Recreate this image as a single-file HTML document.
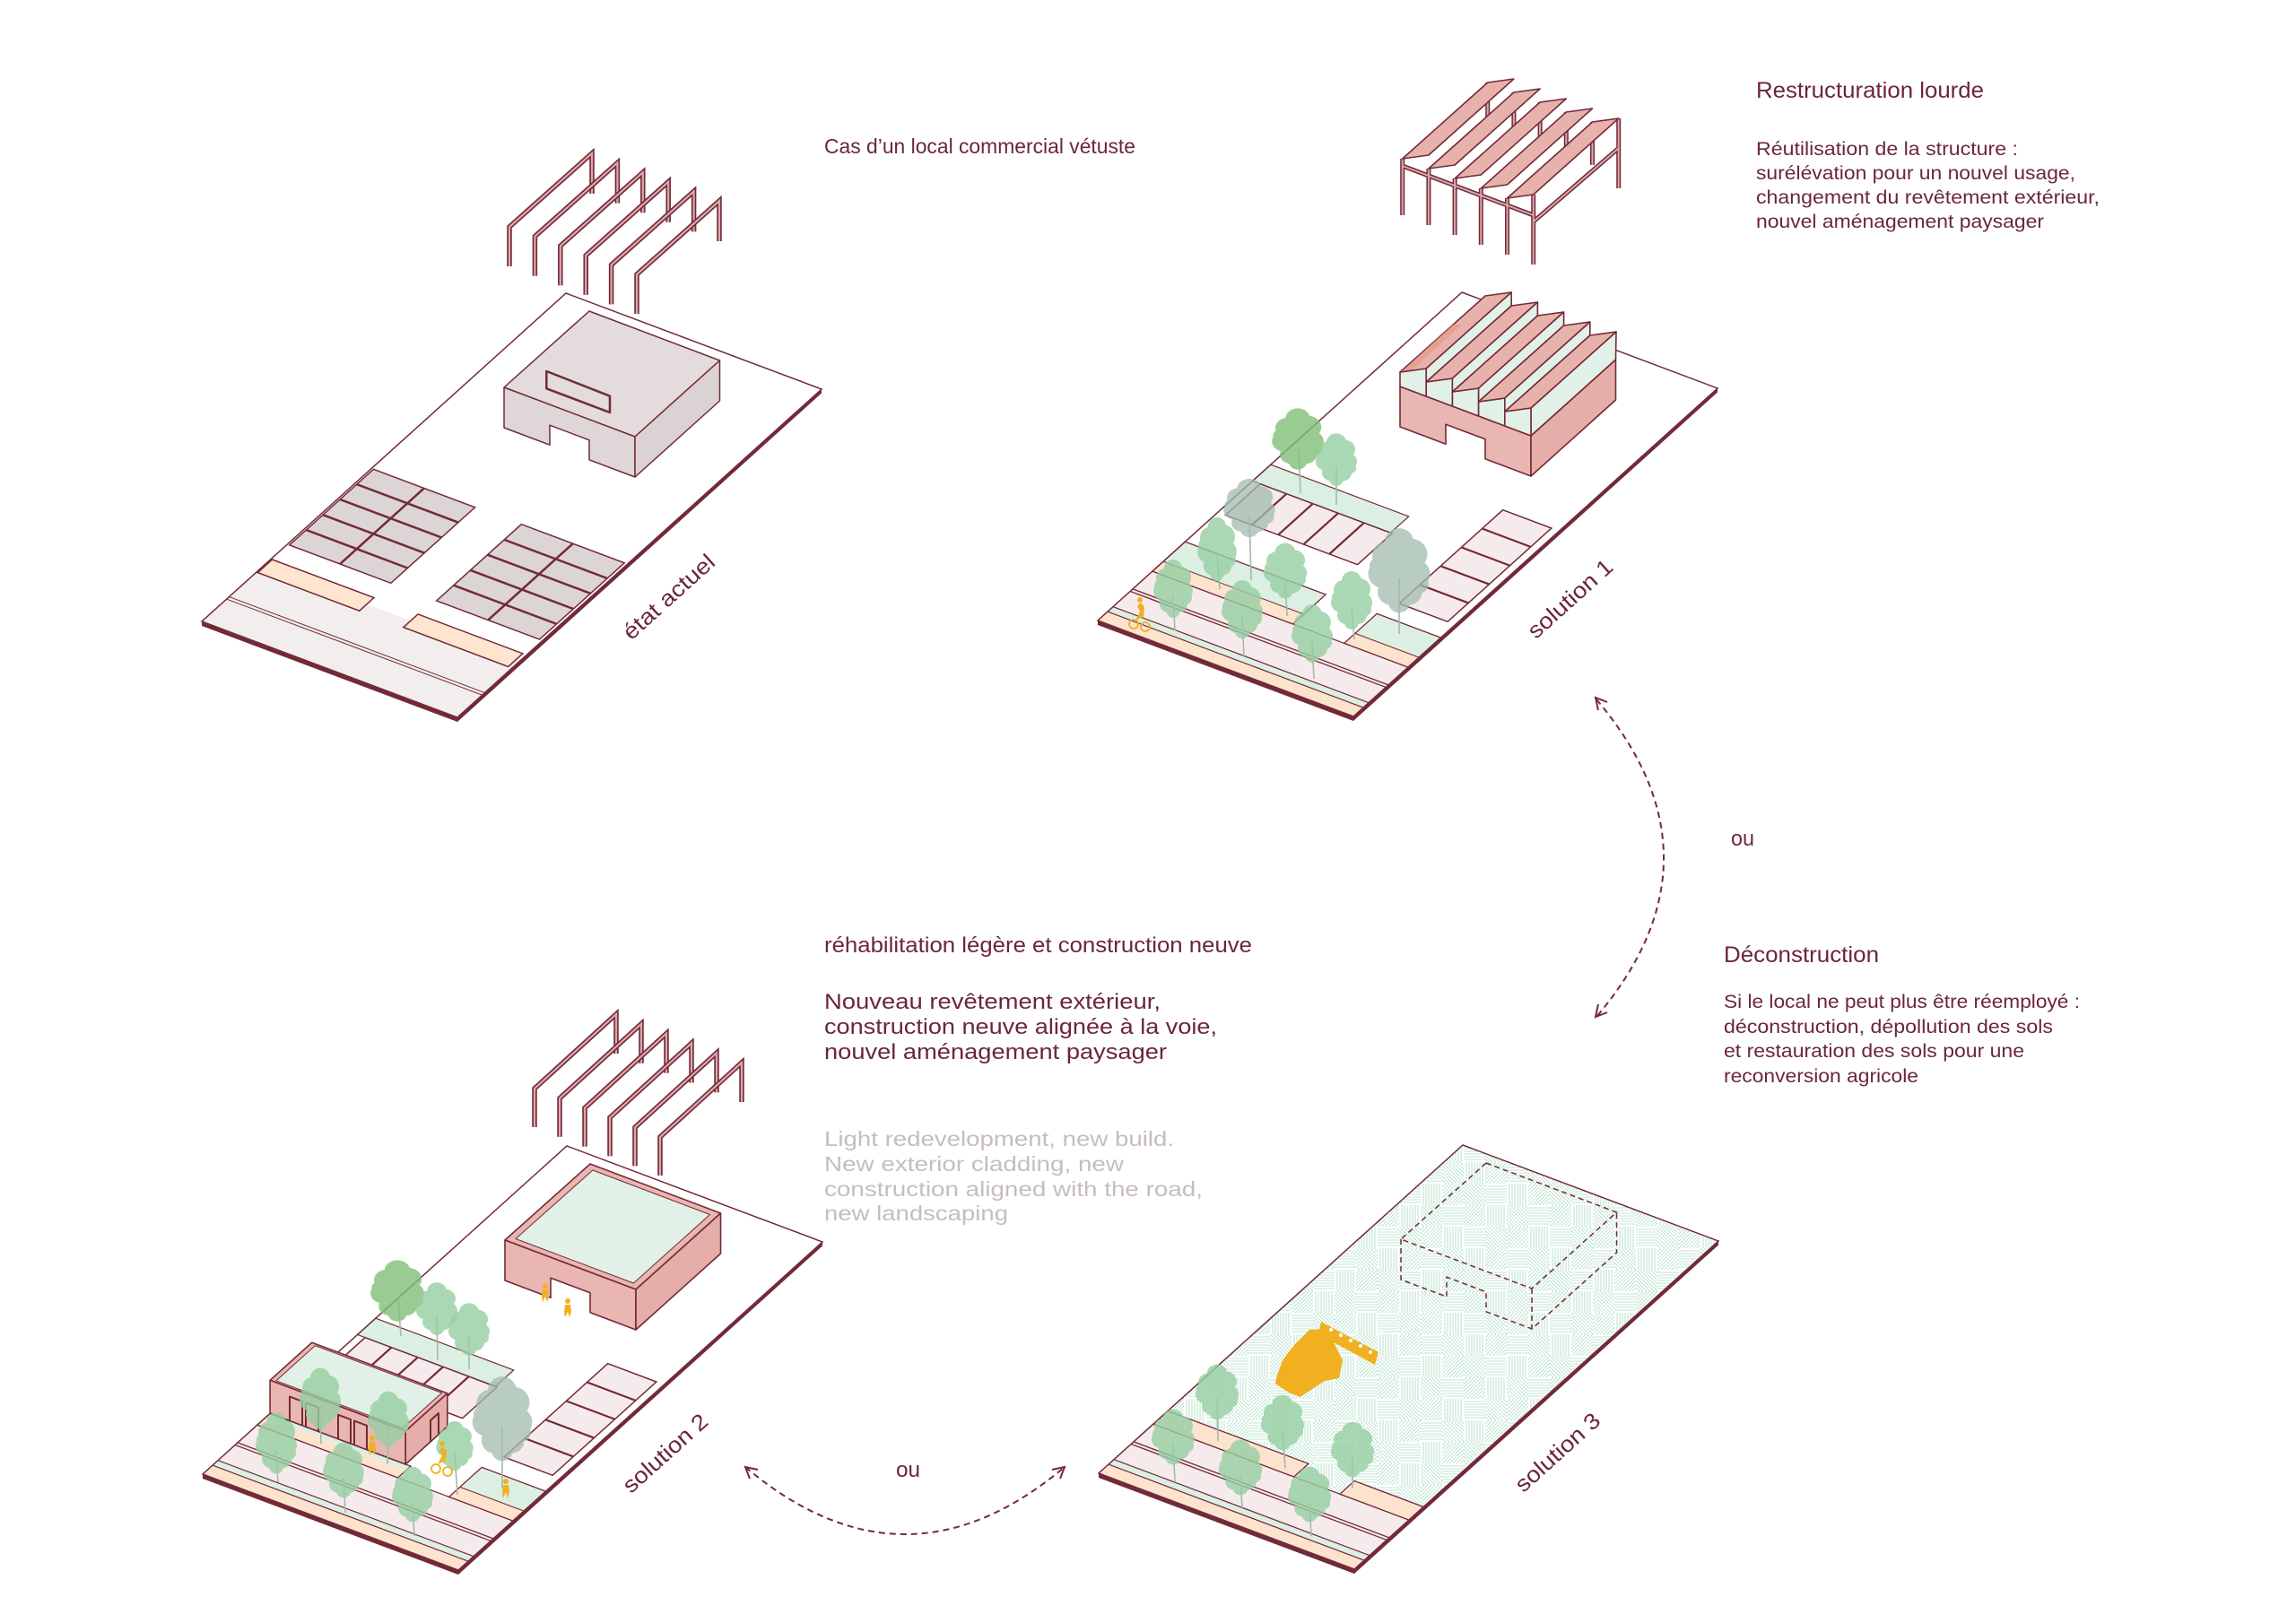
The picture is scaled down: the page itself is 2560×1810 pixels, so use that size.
<!DOCTYPE html>
<html><head><meta charset="utf-8">
<style>
html,body{margin:0;padding:0;background:#fff;width:2560px;height:1810px;overflow:hidden}
svg{display:block}
.nv *{vector-effect:non-scaling-stroke}
text{font-family:"Liberation Sans",sans-serif;fill:#6b2737}
.g{fill:#c6bdbd}
</style></head><body>
<svg width="2560" height="1810" viewBox="0 0 2560 1810" xmlns="http://www.w3.org/2000/svg" xmlns:xlink="http://www.w3.org/1999/xlink">
<defs>
<g id="cn"><circle cx="0" cy="-22" r="11"/><circle cx="-9" cy="-12" r="11"/><circle cx="9" cy="-13" r="12"/><circle cx="-12" cy="2" r="11"/><circle cx="12" cy="2" r="11"/><circle cx="0" cy="-2" r="13"/><circle cx="-6" cy="16" r="10"/><circle cx="7" cy="16" r="10"/><circle cx="0" cy="24" r="8"/><circle cx="-15" cy="-4" r="7"/><circle cx="15" cy="10" r="7"/></g>
<path id="qa" d="M0 4L4 0M0 8L8 0M0 12L12 0M0 16L16 0M0 20L20 0M0 24L24 0M4 24L24 4M8 24L24 8M12 24L24 12M16 24L24 16M20 24L24 20"/>
<path id="qb" d="M3 0V24M6 0V24M9 0V24M12 0V24M15 0V24M18 0V24M21 0V24"/>
<path id="qc" d="M0 3H24M0 6H24M0 9H24M0 12H24M0 15H24M0 18H24M0 21H24"/>
<path id="qd" d="M0 4L20 24M0 8L16 24M0 12L12 24M0 16L8 24M0 20L4 24M0 0L24 24M4 0L24 20M8 0L24 16M12 0L24 12M16 0L24 8M20 0L24 4"/>
<pattern id="hatch" width="96" height="96" patternUnits="userSpaceOnUse">
<g stroke="#addcc5" stroke-width="0.85" fill="none">
<use href="#qa" x="0" y="0"/><use href="#qb" x="24" y="0"/><use href="#qd" x="48" y="0"/><use href="#qc" x="72" y="0"/>
<use href="#qc" x="0" y="24"/><use href="#qd" x="24" y="24"/><use href="#qa" x="48" y="24"/><use href="#qb" x="72" y="24"/>
<use href="#qb" x="0" y="48"/><use href="#qa" x="24" y="48"/><use href="#qc" x="48" y="48"/><use href="#qd" x="72" y="48"/>
<use href="#qd" x="0" y="72"/><use href="#qc" x="24" y="72"/><use href="#qb" x="48" y="72"/><use href="#qa" x="72" y="72"/>
</g>
</pattern>
<path id="a0" fill="none" d="M660 216V171L568 253V297"/>
<path id="a1" fill="none" d="M688.4 226.6V181.6L596.4 263.6V307.6"/>
<path id="a2" fill="none" d="M716.8 237.2V192.2L624.8 274.2V318.2"/>
<path id="a3" fill="none" d="M745.2 247.8V202.8L653.2 284.8V328.8"/>
<path id="a4" fill="none" d="M773.6 258.4V213.4L681.6 295.4V339.4"/>
<path id="a5" fill="none" d="M802 269V224L710 306V350"/>
<path id="b0" fill="none" d="M687 1175V1131L596 1214V1257"/>
<path id="b1" fill="none" d="M715 1185.8V1141.8L624 1224.8V1267.8"/>
<path id="b2" fill="none" d="M743 1196.6V1152.6L652 1235.6V1278.6"/>
<path id="b3" fill="none" d="M771 1207.4V1163.4L680 1246.4V1289.4"/>
<path id="b4" fill="none" d="M799 1218.2V1174.2L708 1257.2V1300.2"/>
<path id="b5" fill="none" d="M827 1229V1185L736 1268V1311"/>
<path id="sp" fill="none" d="M1563.7 177V240M1592.9 188V251M1622.1 199V262M1651.3 210V273M1680.5 221V284M1709.7 217V295M1804.7 132V210M1658.7 92V140M1687.9 103V150M1717.1 114V160M1746.3 125V172M1775.5 136V184M1710 247L1805 165M1563.7 185L1709.7 240"/>
</defs>

<!-- ============ D1 : état actuel ============ -->
<g class="nv" transform="matrix(2.85,1.07,-4.06,3.66,631,327)">
 <polygon points="0,0 100,0 100,100 0,100" fill="#fff"/>
 <rect x="0" y="83" width="100" height="17" fill="#f2eeee"/>
 <path d="M0 92.5H100M0 93.2H100" stroke="#722a38" stroke-width="1"/>
 <rect x="0.5" y="81" width="39.8" height="4" fill="#fde5d0" stroke="#722a38" stroke-width="1.5"/>
 <rect x="57.5" y="81" width="41" height="4" fill="#fde5d0" stroke="#722a38" stroke-width="1.5"/>
 <rect x="0.8" y="53.4" width="39.7" height="23.1" fill="#ddd4d5" stroke="#722a38" stroke-width="1.5"/>
 <path d="M20.6 53.4V76.5M0.8 58H40.5M0.8 62.6H40.5M0.8 67.3H40.5M0.8 71.9H40.5" stroke="#722a38" stroke-width="2.5"/>
 <rect x="58.5" y="53.3" width="40.3" height="23.3" fill="#ddd4d5" stroke="#722a38" stroke-width="1.5"/>
 <path d="M78.65 53.3V76.6M58.5 58H98.8M58.5 62.6H98.8M58.5 67.3H98.8M58.5 71.9H98.8" stroke="#722a38" stroke-width="2.5"/>
 <polygon points="0,0 100,0 100,100 0,100" fill="none" stroke="#722a38" stroke-width="1.5"/>
</g>
<polygon points="225,693 510,800 916,434 916,438.5 510,805 225,698" fill="#722a38"/>
<g stroke="#722a38" stroke-width="1.5" stroke-linejoin="round">
 <polygon points="657,347 802.5,402 708,487 562,432" fill="#e3dbdc"/>
 <polygon points="562,432 708,487 708,532 657,512.8 657,490.8 613,474.2 613,496.2 562,477" fill="#ded6d7"/>
 <polygon points="708,487 802.5,402 802.5,447 708,532" fill="#dbd2d3"/>
 <polygon points="609.3,414 680,441.7 680,460 609.3,433.3" fill="#e3dbdc" stroke-width="2.5"/>
</g>
<g>
 <use href="#a0" stroke="#722a38" stroke-width="5.5"/><use href="#a0" stroke="#dca9ab" stroke-width="2.2"/>
 <use href="#a1" stroke="#722a38" stroke-width="5.5"/><use href="#a1" stroke="#dca9ab" stroke-width="2.2"/>
 <use href="#a2" stroke="#722a38" stroke-width="5.5"/><use href="#a2" stroke="#dca9ab" stroke-width="2.2"/>
 <use href="#a3" stroke="#722a38" stroke-width="5.5"/><use href="#a3" stroke="#dca9ab" stroke-width="2.2"/>
 <use href="#a4" stroke="#722a38" stroke-width="5.5"/><use href="#a4" stroke="#dca9ab" stroke-width="2.2"/>
 <use href="#a5" stroke="#722a38" stroke-width="5.5"/><use href="#a5" stroke="#dca9ab" stroke-width="2.2"/>
</g>

<!-- ============ D2 : solution 1 ============ -->
<g class="nv" transform="matrix(2.85,1.07,-4.06,3.66,1630,326)">
 <polygon points="0,0 100,0 100,100 0,100" fill="#fff"/>
 <rect x="0" y="85" width="100" height="10.8" fill="#f6ebec"/>
 <rect x="0" y="95.8" width="100" height="1.5" fill="#dcefe4"/>
 <rect x="0" y="97.3" width="100" height="2.7" fill="#fde3ce"/>
 <path d="M0 85H100M0 95.8H100M0 97.3H100" stroke="#722a38" stroke-width="1.2"/>
 <path d="M0 90.4H100M0 91.1H100" stroke="#722a38" stroke-width="1.3"/>
 <rect x="0" y="76" width="55" height="6" fill="#dcefe3"/><rect x="0" y="82" width="55" height="3" fill="#fde3ce"/>
 <rect x="0" y="76" width="55" height="9" fill="none" stroke="#722a38" stroke-width="1.3"/><path d="M0 82H55" stroke="#722a38" stroke-width="1"/>
 <rect x="75" y="76" width="25" height="6" fill="#dcefe3"/><rect x="75" y="82" width="25" height="3" fill="#fde3ce"/>
 <rect x="75" y="76" width="25" height="9" fill="none" stroke="#722a38" stroke-width="1.3"/><path d="M75 82H100" stroke="#722a38" stroke-width="1"/>
 <rect x="0" y="52.5" width="54" height="5" fill="#dcefe3" stroke="#722a38" stroke-width="1.2"/>
 <rect x="3" y="57.5" width="51.6" height="9.5" fill="#f6ebec" stroke="#722a38" stroke-width="1.5"/>
 <path d="M13.3 57.5V67M23.6 57.5V67M33.5 57.5V67M43.6 57.5V67" stroke="#722a38" stroke-width="2.2"/>
 <rect x="78" y="43.5" width="19" height="28.5" fill="#f6ebec" stroke="#722a38" stroke-width="1.5"/>
 <path d="M78 49.2H97M78 54.9H97M78 60.6H97M78 66.3H97" stroke="#722a38" stroke-width="2.2"/>
 <polygon points="0,0 100,0 100,100 0,100" fill="none" stroke="#722a38" stroke-width="1.5"/>
</g>
<polygon points="1224,692 1509,799 1915,433 1915,437.5 1509,804 1224,697" fill="#722a38"/>
<use href="#sp" stroke="#722a38" stroke-width="5"/><use href="#sp" stroke="#dca9ab" stroke-width="2"/>
<g stroke="#722a38" stroke-width="1.6" fill="#e8b2ac" stroke-linejoin="round">
 <polygon points="1563.7,177 1592.9,173 1687.9,88 1658.7,92"/>
 <polygon points="1592.9,188 1622.1,184 1717.1,99 1687.9,103"/>
 <polygon points="1622.1,199 1651.3,195 1746.3,110 1717.1,114"/>
 <polygon points="1651.3,210 1680.5,206 1775.5,121 1746.3,125"/>
 <polygon points="1680.5,221 1709.7,217 1804.7,132 1775.5,136"/>
</g>
<g stroke="#722a38" stroke-width="1.6" stroke-linejoin="round">
 <polygon points="1561,431 1707,486 1707,531 1656,511.8 1656,489.8 1612,473.2 1612,495.2 1561,476" fill="#e9b6b1"/>
 <polygon points="1707,486 1801.5,401 1801.5,446 1707,531" fill="#e5aea9"/>
 <polygon points="1707,486 1707,455 1802,370 1801.5,401" fill="#e2f1e7"/>
 <polygon points="1561,431 1561,415 1590.2,411 1590.2,442" fill="#e2f1e7"/>
 <polygon points="1590.2,442 1590.2,426 1619.4,422 1619.4,453" fill="#e2f1e7"/>
 <polygon points="1619.4,453 1619.4,437 1648.6,433 1648.6,464" fill="#e2f1e7"/>
 <polygon points="1648.6,464 1648.6,448 1677.8,444 1677.8,475" fill="#e2f1e7"/>
 <polygon points="1677.8,475 1677.8,459 1707,455 1707,486" fill="#e2f1e7"/>
 <polygon points="1561,415 1590.2,411 1685.2,326 1656,330" fill="#e8b2ac"/>
 <polygon points="1590.2,411 1685.2,326 1685.2,341 1590.2,426" fill="#e2f1e7"/>
 <polygon points="1590.2,426 1619.4,422 1714.4,337 1685.2,341" fill="#e8b2ac"/>
 <polygon points="1619.4,422 1714.4,337 1714.4,352 1619.4,437" fill="#e2f1e7"/>
 <polygon points="1619.4,437 1648.6,433 1743.6,348 1714.4,352" fill="#e8b2ac"/>
 <polygon points="1648.6,433 1743.6,348 1743.6,363 1648.6,448" fill="#e2f1e7"/>
 <polygon points="1648.6,448 1677.8,444 1772.8,359 1743.6,363" fill="#e8b2ac"/>
 <polygon points="1677.8,444 1772.8,359 1772.8,374 1677.8,459" fill="#e2f1e7"/>
 <polygon points="1677.8,459 1707,455 1802,370 1772.8,374" fill="#e8b2ac"/>
</g>
<polygon points="1563,414 1575,412 1630,362 1620,362" fill="#e39a86" opacity="0.7"/>
<g stroke="#a3b9aa" stroke-width="1.6">
 <line x1="1450" y1="550" x2="1448" y2="500"/><line x1="1490" y1="563" x2="1490" y2="520"/><line x1="1395" y1="647" x2="1393" y2="575"/>
 <line x1="1360" y1="657" x2="1357" y2="620"/><line x1="1435" y1="687" x2="1433" y2="645"/><line x1="1310" y1="703" x2="1308" y2="665"/>
 <line x1="1387" y1="733" x2="1385" y2="688"/><line x1="1465" y1="757" x2="1463" y2="715"/><line x1="1510" y1="713" x2="1507" y2="678"/>
 <line x1="1560" y1="707" x2="1560" y2="645"/>
</g>
<use href="#cn" transform="translate(1447,490) scale(1.25,1.05)" fill="#82bf78" opacity="0.8"/>
<use href="#cn" transform="translate(1490,513) scale(1,0.9)" fill="#96cfa2" opacity="0.8"/>
<use href="#cn" transform="translate(1393,567) scale(1.25,1)" fill="#a2bcae" opacity="0.75"/>
<use href="#cn" transform="translate(1357,613) scale(0.95,1.1)" fill="#96cfa2" opacity="0.8"/>
<use href="#cn" transform="translate(1433,637) scale(1.05,0.95)" fill="#96cfa2" opacity="0.8"/>
<use href="#cn" transform="translate(1308,657) scale(0.95,1)" fill="#96cfa2" opacity="0.8"/>
<use href="#cn" transform="translate(1385,680) scale(1,1)" fill="#96cfa2" opacity="0.8"/>
<use href="#cn" transform="translate(1463,707) scale(1,1)" fill="#96cfa2" opacity="0.8"/>
<use href="#cn" transform="translate(1507,670) scale(1,1)" fill="#96cfa2" opacity="0.8"/>
<use href="#cn" transform="translate(1560,637) scale(1.5,1.45)" fill="#a2bcae" opacity="0.75"/>
<g fill="none" stroke="#f0b020" stroke-width="1.8"><circle cx="1264" cy="696" r="5"/><circle cx="1277" cy="699" r="5"/></g>
<path d="M1266 692L1271 682L1268 676L1272 672L1276 677L1275 688Z" fill="#f0b020"/><circle cx="1271" cy="669" r="3" fill="#f0b020"/>

<!-- ============ D3 : solution 2 ============ -->
<g class="nv" transform="matrix(2.85,1.07,-4.06,3.66,632,1278)">
 <polygon points="0,0 100,0 100,100 0,100" fill="#fff"/>
 <rect x="0" y="85" width="100" height="10.8" fill="#f6ebec"/>
 <rect x="0" y="95.8" width="100" height="1.5" fill="#dcefe4"/>
 <rect x="0" y="97.3" width="100" height="2.7" fill="#fde3ce"/>
 <path d="M0 85H100M0 95.8H100M0 97.3H100" stroke="#722a38" stroke-width="1.2"/>
 <path d="M0 90.4H100M0 91.1H100" stroke="#722a38" stroke-width="1.3"/>
 <rect x="0" y="81.5" width="55" height="1.2" fill="#dcefe3"/><rect x="0" y="82.7" width="55" height="2.3" fill="#fde3ce"/>
 <rect x="0" y="81.5" width="55" height="3.5" fill="none" stroke="#722a38" stroke-width="1.3"/>
 <rect x="75" y="76" width="25" height="6" fill="#dcefe3"/><rect x="75" y="82" width="25" height="3" fill="#fde3ce"/>
 <rect x="75" y="76" width="25" height="9" fill="none" stroke="#722a38" stroke-width="1.3"/><path d="M75 82H100" stroke="#722a38" stroke-width="1"/>
 <rect x="0" y="52.5" width="54" height="5" fill="#dcefe3" stroke="#722a38" stroke-width="1.2"/>
 <rect x="3" y="57.5" width="51.6" height="9.5" fill="#f6ebec" stroke="#722a38" stroke-width="1.5"/>
 <path d="M13.3 57.5V67M23.6 57.5V67M33.5 57.5V67M43.6 57.5V67" stroke="#722a38" stroke-width="2.2"/>
 <rect x="78" y="43.5" width="19" height="28.5" fill="#f6ebec" stroke="#722a38" stroke-width="1.5"/>
 <path d="M78 49.2H97M78 54.9H97M78 60.6H97M78 66.3H97" stroke="#722a38" stroke-width="2.2"/>
 <polygon points="0,0 100,0 100,100 0,100" fill="none" stroke="#722a38" stroke-width="1.5"/>
</g>
<polygon points="226,1644 511,1751 917,1385 917,1389.5 511,1756 226,1649" fill="#722a38"/>
<g stroke="#722a38" stroke-width="1.6" stroke-linejoin="round">
 <polygon points="658,1298 803.5,1353 709,1438 563,1383" fill="#e9b6b1"/>
 <polygon points="660.9,1305 791.5,1354.5 706.4,1431 575,1381.5" fill="#e1f1e7" stroke-width="1"/>
 <polygon points="563,1383 709,1438 709,1483 658,1463.8 658,1441.8 614,1425.2 614,1447.2 563,1428" fill="#e9b6b1"/>
 <polygon points="709,1438 803.5,1353 803.5,1398 709,1483" fill="#e5aea9"/>
 <polygon points="347.8,1497.2 498.8,1553.9 452.2,1596 301.1,1539.3" fill="#e9b6b1"/>
 <polygon points="351.4,1500.6 492.5,1553.4 449,1592.6 308,1539.8" fill="#e1f1e7" stroke-width="1"/>
 <polygon points="301.1,1539.3 452.2,1596 452.2,1633 301.1,1576.3" fill="#e9b6b1"/>
 <polygon points="452.2,1596 498.8,1553.9 498.8,1590.9 452.2,1633" fill="#e5aea9"/>
 <path d="M323 1584.5V1557.5L337 1562.8V1589.8M341 1591.3V1564.3L355 1569.5V1596.5M377 1604.8V1577.8L391 1583V1610M395 1611.5V1584.5L409 1589.8V1616.8M480 1607.9V1584L489 1576V1599.8" fill="none" stroke-width="2"/>
</g>
<g>
 <use href="#b0" stroke="#722a38" stroke-width="5.5"/><use href="#b0" stroke="#dca9ab" stroke-width="2.2"/>
 <use href="#b1" stroke="#722a38" stroke-width="5.5"/><use href="#b1" stroke="#dca9ab" stroke-width="2.2"/>
 <use href="#b2" stroke="#722a38" stroke-width="5.5"/><use href="#b2" stroke="#dca9ab" stroke-width="2.2"/>
 <use href="#b3" stroke="#722a38" stroke-width="5.5"/><use href="#b3" stroke="#dca9ab" stroke-width="2.2"/>
 <use href="#b4" stroke="#722a38" stroke-width="5.5"/><use href="#b4" stroke="#dca9ab" stroke-width="2.2"/>
 <use href="#b5" stroke="#722a38" stroke-width="5.5"/><use href="#b5" stroke="#dca9ab" stroke-width="2.2"/>
</g>
<g stroke="#a3b9aa" stroke-width="1.6">
 <line x1="447" y1="1490" x2="444" y2="1450"/><line x1="488" y1="1517" x2="487" y2="1468"/><line x1="523" y1="1527" x2="523" y2="1490"/>
 <line x1="358" y1="1610" x2="357" y2="1568"/><line x1="432" y1="1633" x2="433" y2="1590"/><line x1="310" y1="1653" x2="308" y2="1618"/>
 <line x1="385" y1="1687" x2="383" y2="1648"/><line x1="462" y1="1713" x2="460" y2="1675"/><line x1="510" y1="1667" x2="507" y2="1620"/>
 <line x1="560" y1="1660" x2="560" y2="1592"/>
</g>
<use href="#cn" transform="translate(443,1440) scale(1.3,1.05)" fill="#82bf78" opacity="0.8"/>
<use href="#cn" transform="translate(487,1460) scale(1,0.9)" fill="#96cfa2" opacity="0.8"/>
<use href="#cn" transform="translate(523,1483) scale(1,0.9)" fill="#96cfa2" opacity="0.8"/>
<use href="#cn" transform="translate(357,1560) scale(1,1.05)" fill="#96cfa2" opacity="0.8"/>
<use href="#cn" transform="translate(433,1583) scale(1,0.95)" fill="#96cfa2" opacity="0.8"/>
<use href="#cn" transform="translate(308,1610) scale(1,1.05)" fill="#96cfa2" opacity="0.8"/>
<use href="#cn" transform="translate(383,1640) scale(1,0.95)" fill="#96cfa2" opacity="0.8"/>
<use href="#cn" transform="translate(460,1667) scale(1,0.95)" fill="#96cfa2" opacity="0.8"/>
<use href="#cn" transform="translate(507,1613) scale(0.9,0.85)" fill="#96cfa2" opacity="0.8"/>
<use href="#cn" transform="translate(560,1583) scale(1.45,1.45)" fill="#a2bcae" opacity="0.75"/>
<g fill="#f0b020">
 <circle cx="608" cy="1434" r="3"/><path d="M605 1438H611L612 1446L610 1452L608 1446L605 1452L604 1446Z"/>
 <circle cx="633" cy="1451" r="3"/><path d="M630 1455H636L637 1463L635 1469L633 1463L630 1469L629 1463Z"/>
 <circle cx="415" cy="1604" r="3"/><path d="M412 1608H418L419 1616L417 1623L415 1616L412 1623L411 1616Z"/>
 <circle cx="564" cy="1652" r="3"/><path d="M561 1656H567L568 1664L566 1671L564 1664L561 1671L560 1664Z"/>
 <path d="M488 1633L493 1623L490 1617L494 1613L498 1618L497 1629Z"/><circle cx="493" cy="1610" r="3"/>
</g>
<g fill="none" stroke="#f0b020" stroke-width="1.8"><circle cx="486" cy="1638" r="5"/><circle cx="499" cy="1641" r="5"/></g>

<!-- ============ D4 : solution 3 ============ -->
<g class="nv" transform="matrix(2.85,1.07,-4.06,3.66,1631,1277)">
 <polygon points="0,0 100,0 100,100 0,100" fill="#fff"/>
</g>
<polygon points="1631,1277 1916,1384 1570.9,1695.1 1285.9,1588.1" fill="url(#hatch)"/>
<g class="nv" transform="matrix(2.85,1.07,-4.06,3.66,1631,1277)">
 <rect x="0" y="85" width="100" height="10.8" fill="#f6ebec"/>
 <rect x="0" y="95.8" width="100" height="1.5" fill="#dcefe4"/>
 <rect x="0" y="97.3" width="100" height="2.7" fill="#fde3ce"/>
 <path d="M0 85H100M0 95.8H100M0 97.3H100" stroke="#722a38" stroke-width="1.2"/>
 <path d="M0 90.4H100M0 91.1H100" stroke="#722a38" stroke-width="1.3"/>
 <rect x="0" y="81" width="55" height="4" fill="#fde3ce" stroke="#722a38" stroke-width="1.3"/>
 <rect x="73" y="81" width="27" height="4" fill="#fde3ce" stroke="#722a38" stroke-width="1.3"/>
 <polygon points="0,0 100,0 100,100 0,100" fill="none" stroke="#722a38" stroke-width="1.5"/>
</g>
<polygon points="1225,1643 1510,1750 1916,1384 1916,1388.5 1510,1755 1225,1648" fill="#722a38"/>
<g fill="none" stroke="#722a38" stroke-width="1.5" stroke-dasharray="6 4">
 <polygon points="1657,1297 1802.5,1352 1708,1437 1562,1382"/>
 <path d="M1562 1382V1427L1613 1446.2V1424.2L1657 1440.8V1462.8L1708 1482L1802.5 1397V1352M1708 1437V1482"/>
</g>
<polygon points="1423,1537 1430,1517 1443,1500 1460,1483 1477,1482 1487,1497 1497,1517 1493,1537 1477,1540 1457,1553 1450,1558 1437,1553 1422,1543" fill="#f0b020"/>
<polygon points="1473,1474 1537,1508 1533,1522 1470,1488" fill="#f0b020"/>
<g fill="#fff"><circle cx="1484" cy="1483" r="2"/><circle cx="1495" cy="1489" r="2"/><circle cx="1506" cy="1495" r="2"/><circle cx="1517" cy="1501" r="2"/><circle cx="1528" cy="1508" r="2"/></g>
<g stroke="#a3b9aa" stroke-width="1.6">
 <line x1="1358" y1="1607" x2="1357" y2="1560"/><line x1="1433" y1="1637" x2="1430" y2="1595"/><line x1="1508" y1="1660" x2="1508" y2="1625"/>
 <line x1="1310" y1="1653" x2="1308" y2="1610"/><line x1="1385" y1="1683" x2="1383" y2="1645"/><line x1="1462" y1="1713" x2="1460" y2="1675"/>
</g>
<use href="#cn" transform="translate(1357,1553) scale(1.05,0.95)" fill="#96cfa2" opacity="0.8"/>
<use href="#cn" transform="translate(1430,1587) scale(1.05,0.95)" fill="#96cfa2" opacity="0.8"/>
<use href="#cn" transform="translate(1508,1617) scale(1.05,0.95)" fill="#96cfa2" opacity="0.8"/>
<use href="#cn" transform="translate(1308,1603) scale(1.05,0.95)" fill="#96cfa2" opacity="0.8"/>
<use href="#cn" transform="translate(1383,1637) scale(1.05,0.95)" fill="#96cfa2" opacity="0.8"/>
<use href="#cn" transform="translate(1460,1667) scale(1.05,0.95)" fill="#96cfa2" opacity="0.8"/>

<!-- ============ Arrows ============ -->
<g fill="none" stroke="#722a38" stroke-width="2">
 <path d="M1780 780Q1930 957 1780 1134" stroke-dasharray="7 5"/>
 <path d="M1782 792L1779 778L1792 783M1792 1129L1779 1134L1782 1120"/>
 <path d="M831 1636Q1009 1786 1187 1636" stroke-dasharray="7 5"/>
 <path d="M836 1649L831 1636L845 1639M1173 1639L1187 1636L1182 1649"/>
</g>

<!-- ============ Text ============ -->
<text x="919" y="171" font-size="23" textLength="347" lengthAdjust="spacingAndGlyphs">Cas d’un local commercial vétuste</text>
<text x="1958" y="109" font-size="25" textLength="254" lengthAdjust="spacingAndGlyphs">Restructuration lourde</text>
<g font-size="21.5">
 <text x="1958" y="173" textLength="292" lengthAdjust="spacingAndGlyphs">Réutilisation de la structure :</text>
 <text x="1958" y="200" textLength="356" lengthAdjust="spacingAndGlyphs">surélévation pour un nouvel usage,</text>
 <text x="1958" y="227" textLength="383" lengthAdjust="spacingAndGlyphs">changement du revêtement extérieur,</text>
 <text x="1958" y="254" textLength="321" lengthAdjust="spacingAndGlyphs">nouvel aménagement paysager</text>
</g>
<text x="1930" y="943" font-size="24" textLength="26" lengthAdjust="spacingAndGlyphs">ou</text>
<text x="1922" y="1073" font-size="25" textLength="173" lengthAdjust="spacingAndGlyphs">Déconstruction</text>
<g font-size="21.5">
 <text x="1922" y="1124" textLength="397" lengthAdjust="spacingAndGlyphs">Si le local ne peut plus être réemployé :</text>
 <text x="1922" y="1152" textLength="367" lengthAdjust="spacingAndGlyphs">déconstruction, dépollution des sols</text>
 <text x="1922" y="1179" textLength="335" lengthAdjust="spacingAndGlyphs">et restauration des sols pour une</text>
 <text x="1922" y="1207" textLength="217" lengthAdjust="spacingAndGlyphs">reconversion agricole</text>
</g>
<text x="919" y="1062" font-size="24" textLength="477" lengthAdjust="spacingAndGlyphs">réhabilitation légère et construction neuve</text>
<g font-size="24">
 <text x="919" y="1125" textLength="375" lengthAdjust="spacingAndGlyphs">Nouveau revêtement extérieur,</text>
 <text x="919" y="1153" textLength="438" lengthAdjust="spacingAndGlyphs">construction neuve alignée à la voie,</text>
 <text x="919" y="1181" textLength="382" lengthAdjust="spacingAndGlyphs">nouvel aménagement paysager</text>
</g>
<g font-size="23">
 <text class="g" x="919" y="1278" textLength="390" lengthAdjust="spacingAndGlyphs">Light redevelopment, new build.</text>
 <text class="g" x="919" y="1306" textLength="334" lengthAdjust="spacingAndGlyphs">New exterior cladding, new</text>
 <text class="g" x="919" y="1334" textLength="422" lengthAdjust="spacingAndGlyphs">construction aligned with the road,</text>
 <text class="g" x="919" y="1361" textLength="205" lengthAdjust="spacingAndGlyphs">new landscaping</text>
</g>
<text x="999" y="1647" font-size="24" textLength="27" lengthAdjust="spacingAndGlyphs">ou</text>
<g font-size="25" text-anchor="middle">
 <g transform="translate(746,666) rotate(-42)"><text x="0" y="8" textLength="128" lengthAdjust="spacingAndGlyphs">état actuel</text></g>
 <g transform="translate(1751,668) rotate(-42)"><text x="0" y="8" textLength="118" lengthAdjust="spacingAndGlyphs">solution 1</text></g>
 <g transform="translate(742,1621) rotate(-42)"><text x="0" y="8" textLength="118" lengthAdjust="spacingAndGlyphs">solution 2</text></g>
 <g transform="translate(1737,1620) rotate(-42)"><text x="0" y="8" textLength="118" lengthAdjust="spacingAndGlyphs">solution 3</text></g>
</g>
</svg>
</body></html>
